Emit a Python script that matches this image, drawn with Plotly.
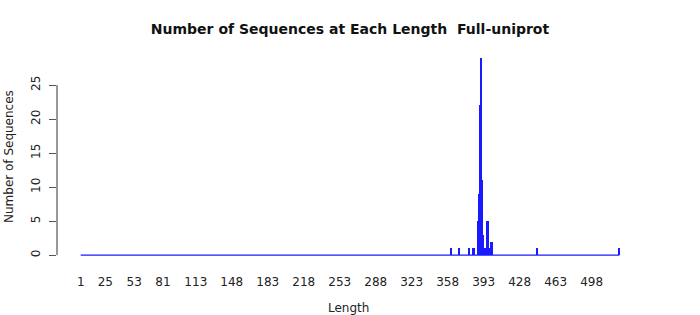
import plotly.graph_objects as go

# Sequence lengths with nonzero counts (all other lengths 1..525 have zero)
lengths = [361, 369, 379, 383, 384, 388, 389, 390, 391, 392, 393, 394, 395,
           396, 397, 398, 400, 401, 445, 525]
counts = [1, 1, 1, 1, 1, 5, 9, 22, 29, 11, 3, 1, 1, 5, 5, 1, 2, 2, 1, 1]
min_length = 1
max_length = 525

x_tick_vals = [1, 25, 53, 81, 113, 148, 183, 218, 253, 288, 323, 358, 393,
               428, 463, 498]
y_tick_vals = [0, 5, 10, 15, 20, 25]

title_text = "Number of Sequences at Each Length  Full-uniprot"
x_title = "Length"
y_title = "Number of Sequences"

BLUE = "#1a1aff"
FONT = "DejaVu Sans"

fig = go.Figure()
# zero baseline across all lengths (zero-height bars)
fig.add_trace(go.Scatter(
    x=[min_length, max_length], y=[0, 0], mode="lines",
    line=dict(color=BLUE, width=1.3), hoverinfo="skip", showlegend=False))
fig.add_trace(go.Bar(
    x=lengths, y=counts, width=1.3, marker=dict(color=BLUE, line=dict(width=0)),
    showlegend=False))

fig.update_layout(
    width=700, height=315,
    margin=dict(l=57, r=60, t=50, b=52),
    paper_bgcolor="white", plot_bgcolor="white",
    font=dict(family=FONT, size=12, color="#222"),
    bargap=0,
    title=dict(text="<b>" + title_text + "</b>", x=0.5, xanchor="center",
               y=1 - 29 / 315, yanchor="middle",
               font=dict(family=FONT, size=14, color="#111")),
    xaxis=dict(range=[-22.05, 545.1], tickmode="array", tickvals=x_tick_vals,
               ticktext=[str(v) for v in x_tick_vals], showgrid=False,
               zeroline=False, showline=False, ticks="", ticklabelstandoff=10,
               tickfont=dict(size=12)),
    yaxis=dict(range=[-1.16, 30.16], tickmode="array", tickvals=y_tick_vals,
               ticktext=[str(v) for v in y_tick_vals], showgrid=False,
               zeroline=False, showline=False, ticks="outside", ticklen=7,
               tickcolor="#555", tickwidth=1, tickangle=-90,
               ticklabelstandoff=4, tickfont=dict(size=12)),
    annotations=[
        dict(text=x_title, xref="paper", yref="paper", x=0.5, y=-(308 - 263) / 213,
             xanchor="center", yanchor="middle", showarrow=False,
             font=dict(family=FONT, size=12, color="#222"), xshift=0),
        dict(text=y_title, xref="paper", yref="paper", x=(9 - 57) / 583,
             y=(263 - 157) / 213, xanchor="center", yanchor="middle",
             showarrow=False, textangle=-90,
             font=dict(family=FONT, size=12, color="#222")),
    ],
    shapes=[dict(type="line", xref="paper", yref="y", x0=0, x1=0,
                 y0=y_tick_vals[0], y1=y_tick_vals[-1],
                 line=dict(color="#333", width=1))],
)

fig.write_html("out.html")
